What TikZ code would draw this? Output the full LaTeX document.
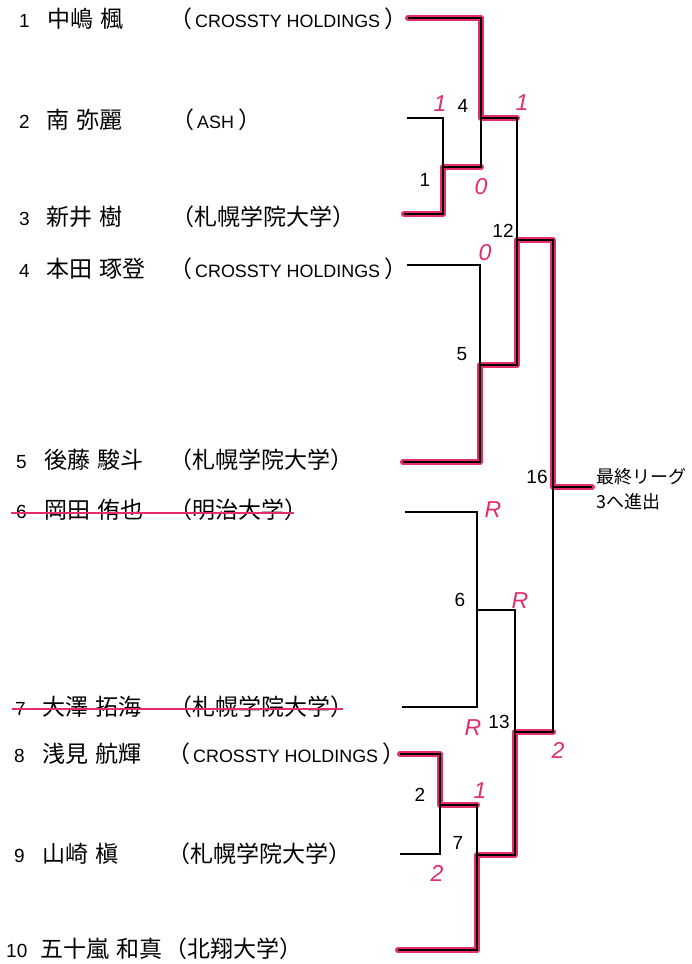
\documentclass[tikz,border=0pt]{standalone}
\usepackage{fontspec}
\usepackage{xcolor}
\usepackage{tikz}
\setmainfont{Liberation Sans}
\newfontfamily\jp[WordSpace=1.5]{Noto Sans CJK JP}
\definecolor{marker}{RGB}{228,45,105}
\newcommand\eng[1]{{\rmfamily\fontsize{17.9}{20}\selectfont\kern3pt #1\kern4pt}}

\begin{document}
\begin{tikzpicture}[x=1pt, y=-1pt,
    every node/.style={inner sep=0pt},
    seed/.style={anchor=base west, font=\fontsize{19}{20}\selectfont},
    player/.style={anchor=base west, font=\jp\fontsize{23}{24}\selectfont},
    club/.style={anchor=base west, font=\jp\fontsize{23}{24}\selectfont},
    matchno/.style={font=\fontsize{19}{20}\selectfont},
    score/.style={text=marker, font=\itshape\fontsize{23}{24}\selectfont},
    bracket/.style={line width=1.4pt},
    winner/.style={line width=2.6pt, preaction={draw=marker, line width=6pt, line cap=round, line join=round}},
    strike/.style={marker, line width=1.3pt}]
    \fill[white] (0,0) rectangle (692,964);

    % entries
    \node[seed] (s1) at (19,27) {1};
    \node[player] (n1) at (47,27) {中嶋 楓};
    \node[club] (c1) at (169,27) {（\eng{CROSSTY HOLDINGS}）};
    \node[seed] (s2) at (19,128) {2};
    \node[player] (n2) at (46,128) {南 弥麗};
    \node[club] (c2) at (171,128) {（\eng{ASH}）};
    \node[seed] (s3) at (19,225) {3};
    \node[player] (n3) at (46,225) {新井 樹};
    \node[club] (c3) at (171,225) {（札幌学院大学）};
    \node[seed] (s4) at (19,277) {4};
    \node[player] (n4) at (46,277) {本田 琢登};
    \node[club] (c4) at (169,277) {（\eng{CROSSTY HOLDINGS}）};
    \node[seed] (s5) at (16,468) {5};
    \node[player] (n5) at (44,468) {後藤 駿斗};
    \node[club] (c5) at (169,468) {（札幌学院大学）};
    \node[seed] (s6) at (16,518) {6};
    \node[player] (n6) at (44,518) {岡田 侑也};
    \node[club] (c6) at (169,518) {（明治大学）};
    \node[seed] (s7) at (15,715) {7};
    \node[player] (n7) at (42,715) {大澤 拓海};
    \node[club] (c7) at (169,715) {（札幌学院大学）};
    \node[seed] (s8) at (14,762) {8};
    \node[player] (n8) at (42,762) {浅見 航輝};
    \node[club] (c8) at (167,762) {（\eng{CROSSTY HOLDINGS}）};
    \node[seed] (s9) at (14,862) {9};
    \node[player] (n9) at (42,862) {山崎 槇};
    \node[club] (c9) at (167,862) {（札幌学院大学）};
    \node[seed] (s10) at (6,957) {10};
    \node[player] (n10) at (40,957) {五十嵐 和真};
    \node[club] (c10) at (164,957) {（北翔大学）};

    \draw[strike] (11,513) -- (294,513);
    \draw[strike] (12,709) -- (343,709);

    % bracket points
    \coordinate (p1) at (408,18);
    \coordinate (p2) at (407,118);
    \coordinate (p3) at (404,214);
    \coordinate (p4) at (407,265);
    \coordinate (p5) at (403,462);
    \coordinate (p6) at (405,512);
    \coordinate (p7) at (402,707);
    \coordinate (p8) at (400,754);
    \coordinate (p9) at (400,854);
    \coordinate (p10) at (398,950);
    \coordinate (m1) at (443,167);
    \coordinate (m4) at (481,118);
    \coordinate (m5) at (480,365);
    \coordinate (m12) at (517,240);
    \coordinate (m6) at (477,610);
    \coordinate (m2) at (440,805);
    \coordinate (m7) at (477,855);
    \coordinate (m13) at (515,732);
    \coordinate (m16) at (553,487);
    \coordinate (final) at (592,487);

    % winners
    \draw[winner] (p1) -| (m4) -- (m4 -| m12);
    \draw[winner] (p3) -| (m1) -- (m1 -| m4);
    \draw[winner] (p5) -| (m5) -| (m12) -| (m16) -- (final);
    \draw[winner] (p8) -| (m2) -- (m2 -| m7);
    \draw[winner] (p10) -| (m7) -| (m13) -- (m13 -| m16);

    \draw[bracket] (p2) -| (m1) |- (p3);
    \draw[bracket] (p1) -| (m4) |- (m1);
    \draw[bracket] (p4) -| (m5) |- (p5);
    \draw[bracket] (m4) -| (m12) |- (m5);
    \draw[bracket] (p6) -| (m6) |- (p7);
    \draw[bracket] (p8) -| (m2) |- (p9);
    \draw[bracket] (m2) -| (m7) |- (p10);
    \draw[bracket] (m6) -| (m13) |- (m7);
    \draw[bracket] (m12) -| (m16) |- (m13);

    \node[anchor=west, align=left, font=\jp\fontsize{18}{25}\selectfont] (goal) at (596,489) {最終リーグ\\3へ進出};

    % match numbers
    \node[matchno] (l1) at (425,180) {1};
    \node[matchno] (l4) at (463,106) {4};
    \node[matchno] (l12) at (503,231) {12};
    \node[matchno] (l5) at (462,354) {5};
    \node[matchno] (l16) at (537,477) {16};
    \node[matchno] (l6) at (460,600) {6};
    \node[matchno] (l13) at (499,722) {13};
    \node[matchno] (l2) at (420,795) {2};
    \node[matchno] (l7) at (458,843) {7};

    % scores
    \node[score] (r1) at (440,104) {1};
    \node[score] (r2) at (522,103) {1};
    \node[score] (r3) at (481,187) {0};
    \node[score] (r4) at (485,253) {0};
    \node[score] (r5) at (493,510) {R};
    \node[score] (r6) at (520,601) {R};
    \node[score] (r7) at (473,728) {R};
    \node[score] (r8) at (558,750) {2};
    \node[score] (r9) at (480,791) {1};
    \node[score] (r10) at (437,873) {2};
\end{tikzpicture}
\end{document}
